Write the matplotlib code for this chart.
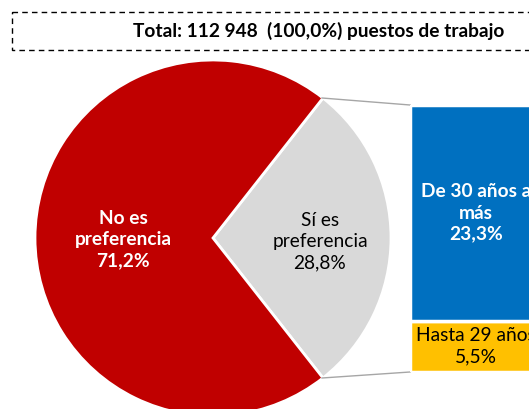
import matplotlib.pyplot as plt
from matplotlib.patches import Rectangle

plt.rcParams["font.family"] = ["Lato", "DejaVu Sans"]

# data
pie_labels = ["Sí es\npreferencia", "No es\npreferencia"]
pie_values = [28.8, 71.2]
bar_labels = ["Hasta 29 años", "De 30 años a\nmás"]
bar_values = [5.5, 23.3]
title = "Total: 112 948  (100,0%) puestos de trabajo"

pie_colors = ["#D9D9D9", "#C00000"]
bar_colors = ["#FFC000", "#0070C0"]

W, H = 529, 409
fig = plt.figure(figsize=(W / 100, H / 100), dpi=100)
fs = 13.8
ls = 1.3

# main axes in pixel coordinates
ax = fig.add_axes([0, 0, 1, 1])
cx, cy, r = 213, 238, 178
start = -pie_values[0] / 100 * 360 / 2
wedges, _ = ax.pie(
    pie_values,
    colors=pie_colors,
    startangle=start,
    center=(cx, cy),
    radius=r,
    frame=True,
    wedgeprops=dict(edgecolor="white", linewidth=2),
)
ax.set_xlim(0, W)
ax.set_ylim(H, 0)
ax.set_aspect("equal")
ax.axis("off")

# pie labels
ax.text(123, 240, f"{pie_labels[1]}\n{pie_values[1]:.1f}%".replace(".", ","),
        ha="center", va="center", color="white", fontsize=fs, fontweight="bold",
        linespacing=ls)
ax.text(320, 242, f"{pie_labels[0]}\n{pie_values[0]:.1f}%".replace(".", ","),
        ha="center", va="center", color="black", fontsize=fs, linespacing=ls)

# bar of pie
bx0, bx1, by0, by1 = 410, 542, 105, 372
bax = fig.add_axes([bx0 / W, 1 - by1 / H, (bx1 - bx0) / W, (by1 - by0) / H])
bottom = 0
for lab, val, col in zip(bar_labels, bar_values, bar_colors):
    bax.bar(0, val, bottom=bottom, width=1, color=col, edgecolor="white", linewidth=2.5)
    tc = "white" if col == "#0070C0" else "black"
    fw = "bold" if col == "#0070C0" else "normal"
    bax.text(0, bottom + val / 2, f"{lab}\n{val:.1f}%".replace(".", ","),
             ha="center", va="center", color=tc, fontsize=fs, fontweight=fw,
             linespacing=ls)
    bottom += val
bax.set_xlim(-0.5, 0.5)
bax.set_ylim(0, sum(bar_values))
bax.axis("off")

# connector lines
ax.plot([322, bx0], [98, by0], color="#A6A6A6", lw=1)
ax.plot([322, bx0], [378, by1], color="#A6A6A6", lw=1)

# title box
ax.add_patch(Rectangle((12, 12), 600, 38, fill=False, edgecolor="black",
                       linestyle=(0, (4, 3)), linewidth=1, clip_on=False))
ax.text(319, 31, title, ha="center", va="center", fontsize=fs,
        fontweight="bold", color="black")

fig.savefig("out.png", dpi=100)
